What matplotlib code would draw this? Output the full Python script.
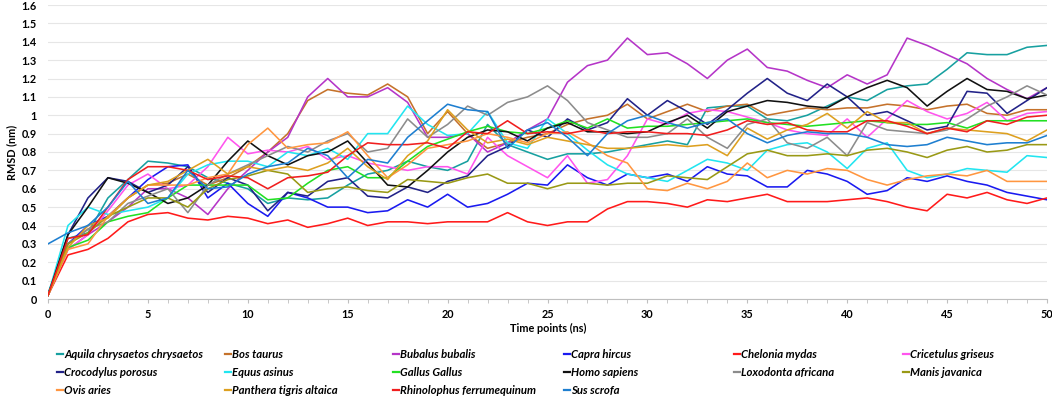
import matplotlib
matplotlib.use("Agg")
import matplotlib.pyplot as plt
from matplotlib.lines import Line2D
from matplotlib.ticker import FixedLocator, FixedFormatter, MultipleLocator

# ---------------- data ----------------
time_ns = list(range(0, 51))

aquila = [0.03, 0.33, 0.36, 0.55, 0.65, 0.75, 0.74, 0.72, 0.66, 0.63, 0.60,
          0.52, 0.55, 0.54, 0.55, 0.62, 0.68, 0.70, 0.75, 0.72, 0.70,
          0.75, 0.95, 0.84, 0.80, 0.76, 0.79, 0.79, 0.80, 0.82, 0.84,
          0.86, 0.84, 1.04, 1.05, 1.05, 0.98, 0.97, 1.00, 1.05, 1.10,
          1.08, 1.14, 1.16, 1.17, 1.25, 1.34, 1.33, 1.33, 1.37, 1.38]
bos = [0.02, 0.30, 0.38, 0.45, 0.55, 0.62, 0.63, 0.68, 0.62, 0.66, 0.72,
       0.80, 0.90, 1.08, 1.14, 1.12, 1.11, 1.17, 1.10, 0.90, 1.02,
       0.90, 0.82, 0.85, 0.88, 0.90, 0.95, 0.98, 1.00, 1.06, 0.98,
       1.02, 1.06, 1.02, 1.05, 1.06, 1.00, 1.02, 1.04, 1.03, 1.04,
       1.04, 1.06, 1.05, 1.03, 1.05, 1.06, 1.01, 1.00, 1.03, 1.03]
bubalus = [0.02, 0.27, 0.35, 0.42, 0.50, 0.60, 0.60, 0.55, 0.46, 0.60, 0.70,
           0.80, 0.88, 1.10, 1.20, 1.10, 1.10, 1.15, 1.07, 0.88, 0.88,
           0.90, 0.80, 0.85, 0.92, 0.98, 1.18, 1.27, 1.30, 1.42, 1.33,
           1.34, 1.28, 1.20, 1.30, 1.36, 1.26, 1.24, 1.19, 1.15, 1.22,
           1.17, 1.22, 1.42, 1.38, 1.33, 1.28, 1.20, 1.14, 1.09, 1.15]
capra = [0.02, 0.30, 0.40, 0.45, 0.55, 0.65, 0.72, 0.73, 0.55, 0.63, 0.52,
         0.45, 0.58, 0.55, 0.50, 0.50, 0.47, 0.48, 0.54, 0.50, 0.57,
         0.50, 0.52, 0.57, 0.63, 0.62, 0.73, 0.66, 0.62, 0.68, 0.66,
         0.68, 0.64, 0.72, 0.68, 0.67, 0.61, 0.61, 0.70, 0.68, 0.64,
         0.57, 0.59, 0.66, 0.64, 0.67, 0.64, 0.62, 0.58, 0.56, 0.54]
chelonia = [0.02, 0.24, 0.27, 0.33, 0.42, 0.46, 0.47, 0.44, 0.43, 0.45, 0.44,
            0.41, 0.43, 0.39, 0.41, 0.44, 0.40, 0.42, 0.42, 0.41, 0.42,
            0.42, 0.42, 0.47, 0.42, 0.40, 0.42, 0.42, 0.49, 0.53, 0.53,
            0.52, 0.50, 0.54, 0.53, 0.55, 0.57, 0.53, 0.53, 0.53, 0.54,
            0.55, 0.53, 0.50, 0.48, 0.57, 0.55, 0.58, 0.54, 0.52, 0.55]
cricetulus = [0.02, 0.27, 0.35, 0.48, 0.62, 0.68, 0.60, 0.62, 0.72, 0.88, 0.79,
              0.81, 0.80, 0.83, 0.76, 0.78, 0.74, 0.72, 0.70, 0.72, 0.72,
              0.68, 0.88, 0.78, 0.72, 0.66, 0.78, 0.63, 0.65, 0.78, 0.98,
              0.95, 1.01, 1.03, 1.02, 0.99, 0.96, 0.92, 0.90, 0.89, 0.98,
              0.88, 0.98, 1.08, 1.02, 0.98, 1.01, 1.07, 0.97, 1.01, 1.02]
crocodylus = [0.02, 0.35, 0.55, 0.66, 0.64, 0.58, 0.62, 0.72, 0.58, 0.66, 0.62,
              0.48, 0.58, 0.56, 0.64, 0.66, 0.56, 0.55, 0.61, 0.58, 0.64,
              0.67, 0.78, 0.83, 0.92, 0.88, 0.98, 0.92, 0.96, 1.09, 1.00,
              1.08, 1.02, 0.95, 1.03, 1.12, 1.20, 1.12, 1.08, 1.17, 1.10,
              1.00, 1.02, 0.97, 0.92, 0.94, 1.13, 1.12, 1.01, 1.08, 1.15]
equus = [0.02, 0.40, 0.50, 0.46, 0.48, 0.50, 0.55, 0.68, 0.73, 0.75, 0.75,
         0.72, 0.80, 0.78, 0.82, 0.76, 0.90, 0.90, 1.05, 0.95, 0.89,
         0.90, 1.02, 0.85, 0.82, 0.98, 0.90, 0.81, 0.73, 0.68, 0.66,
         0.64, 0.70, 0.76, 0.74, 0.70, 0.81, 0.84, 0.85, 0.80, 0.71,
         0.82, 0.85, 0.70, 0.66, 0.68, 0.71, 0.70, 0.69, 0.78, 0.77]
gallus = [0.02, 0.28, 0.32, 0.42, 0.45, 0.47, 0.55, 0.62, 0.62, 0.62, 0.62,
          0.54, 0.55, 0.63, 0.70, 0.72, 0.66, 0.66, 0.75, 0.83, 0.87,
          0.91, 0.94, 0.91, 0.90, 0.93, 0.97, 0.93, 0.98, 0.93, 0.94,
          0.94, 0.95, 0.96, 0.97, 0.98, 0.96, 0.95, 0.94, 0.95, 0.96,
          0.97, 0.96, 0.95, 0.95, 0.96, 0.93, 0.97, 0.97, 0.97, 0.97]
homo = [0.02, 0.35, 0.50, 0.66, 0.63, 0.58, 0.52, 0.55, 0.62, 0.75, 0.86,
        0.78, 0.73, 0.78, 0.80, 0.86, 0.74, 0.62, 0.61, 0.70, 0.80,
        0.88, 0.92, 0.91, 0.86, 0.93, 0.96, 0.91, 0.91, 0.90, 0.91,
        0.96, 1.00, 0.93, 1.02, 1.05, 1.08, 1.07, 1.05, 1.04, 1.10,
        1.15, 1.19, 1.15, 1.05, 1.13, 1.20, 1.14, 1.13, 1.09, 1.11]
loxodonta = [0.02, 0.30, 0.38, 0.42, 0.52, 0.56, 0.60, 0.47, 0.62, 0.68, 0.73,
             0.78, 0.83, 0.80, 0.86, 0.90, 0.80, 0.82, 0.98, 0.88, 0.95,
             1.05, 1.00, 1.07, 1.10, 1.16, 1.08, 0.96, 0.92, 0.88, 0.88,
             0.90, 0.98, 0.88, 0.82, 0.95, 0.98, 0.85, 0.82, 0.88, 0.78,
             0.96, 0.92, 0.91, 0.90, 0.92, 0.98, 1.05, 1.10, 1.16, 1.11]
manis = [0.02, 0.30, 0.36, 0.45, 0.50, 0.55, 0.55, 0.50, 0.60, 0.65, 0.67,
         0.70, 0.68, 0.58, 0.60, 0.61, 0.59, 0.58, 0.65, 0.64, 0.63,
         0.66, 0.68, 0.63, 0.63, 0.60, 0.63, 0.63, 0.62, 0.63, 0.63,
         0.67, 0.66, 0.65, 0.72, 0.79, 0.81, 0.78, 0.78, 0.79, 0.78,
         0.81, 0.82, 0.80, 0.77, 0.81, 0.83, 0.80, 0.81, 0.84, 0.84]
ovis = [0.02, 0.27, 0.30, 0.45, 0.55, 0.62, 0.62, 0.62, 0.66, 0.68, 0.84,
        0.93, 0.82, 0.84, 0.85, 0.91, 0.78, 0.66, 0.73, 0.82, 0.84,
        0.86, 0.90, 0.88, 0.85, 0.90, 0.91, 0.85, 0.78, 0.74, 0.60,
        0.59, 0.63, 0.60, 0.64, 0.74, 0.66, 0.70, 0.68, 0.71, 0.70,
        0.65, 0.62, 0.65, 0.67, 0.68, 0.67, 0.70, 0.64, 0.64, 0.64]
panthera = [0.02, 0.28, 0.40, 0.44, 0.55, 0.62, 0.64, 0.70, 0.76, 0.68, 0.72,
            0.70, 0.72, 0.70, 0.74, 0.82, 0.72, 0.65, 0.78, 0.86, 1.03,
            0.92, 0.85, 0.87, 0.84, 0.88, 0.86, 0.84, 0.82, 0.82, 0.83,
            0.84, 0.83, 0.84, 0.78, 0.93, 0.87, 0.92, 0.95, 1.01, 0.93,
            1.02, 0.96, 0.96, 0.90, 0.93, 0.92, 0.91, 0.90, 0.86, 0.92]
rhinolophus = [0.02, 0.33, 0.35, 0.50, 0.65, 0.72, 0.72, 0.70, 0.65, 0.67, 0.66,
               0.60, 0.66, 0.67, 0.69, 0.78, 0.85, 0.84, 0.84, 0.85, 0.82,
               0.91, 0.90, 0.97, 0.90, 0.91, 0.90, 0.92, 0.90, 0.91, 0.91,
               0.90, 0.90, 0.89, 0.92, 0.97, 0.95, 0.96, 0.92, 0.91, 0.91,
               0.97, 0.97, 0.94, 0.90, 0.93, 0.91, 0.97, 0.95, 0.99, 1.00]
sus = [0.30, 0.36, 0.40, 0.50, 0.64, 0.52, 0.55, 0.70, 0.60, 0.61, 0.68,
       0.72, 0.74, 0.82, 0.78, 0.66, 0.76, 0.74, 0.88, 0.97, 1.06,
       1.03, 1.02, 0.82, 0.92, 0.96, 0.88, 0.78, 0.90, 0.97, 1.00,
       0.96, 0.93, 0.96, 0.98, 0.90, 0.85, 0.89, 0.91, 0.90, 0.90,
       0.88, 0.84, 0.83, 0.84, 0.88, 0.86, 0.84, 0.85, 0.85, 0.89]

species = ["Aquila chrysaetos chrysaetos", "Bos taurus", "Bubalus bubalis",
           "Capra hircus", "Chelonia mydas", "Cricetulus griseus",
           "Crocodylus porosus", "Equus asinus", "Gallus Gallus",
           "Homo sapiens", "Loxodonta africana", "Manis javanica",
           "Ovis aries", "Panthera tigris altaica",
           "Rhinolophus ferrumequinum", "Sus scrofa"]
series = [aquila, bos, bubalus, capra, chelonia, cricetulus, crocodylus,
          equus, gallus, homo, loxodonta, manis, ovis, panthera,
          rhinolophus, sus]
colors = ["#17a0a0", "#c5722b", "#b535c8", "#1a1af0", "#ff1a1a", "#ff55ee",
          "#222288", "#22e5f0", "#22e022", "#111111", "#8c8c8c", "#999915",
          "#ff9640", "#dda020", "#f01e1e", "#1e7fd0"]

y_ticks = [0.0, 0.1, 0.2, 0.3, 0.4, 0.5, 0.6, 0.7, 0.8, 0.9, 1.0,
           1.1, 1.2, 1.3, 1.4, 1.5, 1.6]
y_tick_labels = ["0", "0.1", "0.2", "0.3", "0.4", "0.5", "0.6", "0.7", "0.8",
                 "0.9", "1", "1.1", "1.2", "1.3", "1.4", "1.5", "1.6"]
x_ticks = [0, 5, 10, 15, 20, 25, 30, 35, 40, 45, 50]

# ---------------- figure ----------------
plt.rcParams['font.family'] = ['Lato', 'DejaVu Sans']
W, H = 1052, 396
fig = plt.figure(figsize=(W / 100, H / 100), dpi=100)
ax = fig.add_axes([48 / W, 1 - 299 / H, (1047 - 48) / W, (299 - 5) / H])

for name, vals, c in zip(species, series, colors):
    ax.plot(time_ns, vals, color=c, lw=1.15, solid_joinstyle='round',
            label=name)

ax.set_xlim(0, 50)
ax.set_ylim(0, 1.6)
ax.yaxis.set_major_locator(FixedLocator(y_ticks))
ax.yaxis.set_major_formatter(FixedFormatter(y_tick_labels))
ax.xaxis.set_major_locator(FixedLocator(x_ticks))
ax.xaxis.set_minor_locator(MultipleLocator(1))
ax.grid(axis='y', color='#e6e6e6', lw=0.8)
ax.set_axisbelow(True)
for s in ['top', 'right', 'left']:
    ax.spines[s].set_visible(False)
ax.spines['bottom'].set_color('#bfbfbf')
ax.spines['bottom'].set_linewidth(0.8)
ax.tick_params(axis='y', length=0, pad=8, labelsize=7.8)
ax.tick_params(axis='x', which='both', length=3, color='#bfbfbf',
               labelsize=7.8, pad=4)
for lab in ax.get_xticklabels() + ax.get_yticklabels():
    lab.set_fontweight('bold')

fig.text(548 / W, 1 - 328 / H, "Time points (ns)", ha='center', va='center',
         fontsize=7.8, fontweight='bold')
fig.text(12 / W, 1 - 152 / H, "RMSD (nm)", ha='center', va='center',
         rotation=90, fontsize=7.8, fontweight='bold')

# legend: 6 fixed-width columns, row-major order as in the reference
col_x = [57, 225, 393, 564, 734, 903]
ncol = 6
for ci, cx in enumerate(col_x):
    idx = list(range(ci, len(species), ncol))
    hs = [Line2D([], [], color=colors[i], lw=1.6) for i in idx]
    labs = [species[i] for i in idx]
    fig.legend(hs, labs, loc='upper left',
               bbox_to_anchor=(cx / W, 1 - 349 / H),
               frameon=False, handlelength=0.5, handletextpad=0.15,
               borderpad=0, borderaxespad=0, labelspacing=0.62,
               prop={'size': 8.2, 'weight': 'bold', 'style': 'italic'})

fig.savefig("out.png", dpi=100)
